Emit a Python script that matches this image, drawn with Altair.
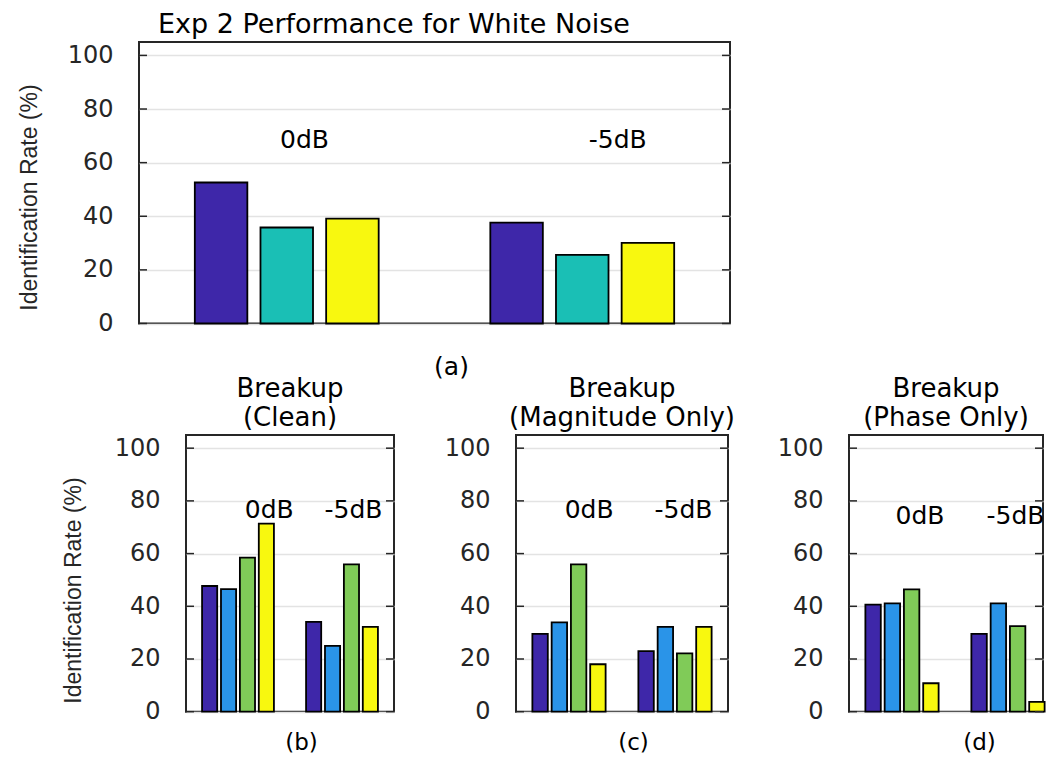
import altair as alt
import pandas as pd

# ---------------- data ----------------
groups = ["0dB", "-5dB"]
group_pos = [1, 2]

top_keys = ["a1", "a2", "a3"]
top_values = [[52.6, 35.8, 39.1], [37.6, 25.6, 30.1]]

bottom_keys = ["b1", "b2", "b3", "b4"]
clean_values = [[47.7, 46.5, 58.5, 71.4], [34.1, 25.0, 55.9, 32.2]]
magnitude_values = [[29.5, 33.9, 55.9, 18.0], [23.0, 32.2, 22.1, 32.2]]
phase_values = [[40.6, 41.1, 46.4, 10.8], [29.5, 41.1, 32.5, 3.7]]

y_ticks = [0, 20, 40, 60, 80, 100]

# annotation anchor points (data coords)
top_ann_x = [1.06, 2.12]
top_ann_y = [68.6, 68.6]
clean_ann_x = [1.30, 2.11]
clean_ann_y = [76.7, 76.7]
mag_ann_x = [1.19, 2.08]
mag_ann_y = [76.7, 76.7]
phase_ann_x = [1.17, 2.07]
phase_ann_y = [74.2, 74.2]

color_domain = ["a1", "a2", "a3", "b1", "b2", "b3", "b4"]
color_range = ["#3E27A9", "#1ABFB5", "#F8F80F", "#3E27A9", "#2A94E8", "#80CB58", "#F8F80F"]

TXT = "DejaVu Sans"
YLAB = "Liberation Sans"
INK = "#262626"


def make_df(values, keys):
    rows = []
    n = len(keys)
    for gi, g in enumerate(group_pos):
        for si, k in enumerate(keys):
            rows.append({"g": g, "i": si + 1, "n": n, "key": k, "value": values[gi][si]})
    return pd.DataFrame(rows)


def panel(values, keys, width, height, xmax, xtitle, xtitle_x, xtitle_y, xtitle_size,
          ann_x, ann_y, title, ylabel=None, ylab_x=0, ylab_y=0):
    df = make_df(values, keys)
    xscale = alt.Scale(domain=[0.5, xmax], nice=False, zero=False)
    yscale = alt.Scale(domain=[0, 105], nice=False)
    xaxis = alt.Axis(labels=False, ticks=False, domain=False, grid=False,
                     title=xtitle, titleFont=TXT, titleFontSize=xtitle_size,
                     titleFontWeight="normal", titleColor="black",
                     titleX=xtitle_x, titleY=xtitle_y, titleBaseline="middle",
                     titleAlign="center")
    yargs = dict(values=y_ticks, grid=True, gridColor="#E3E3E3", gridWidth=1.6,
                 ticks=False, tickSize=0, domain=False, labelFont=TXT,
                 labelFontSize=24, labelColor=INK, labelPadding=26)
    if ylabel:
        yargs.update(title=ylabel, titleFont=YLAB, titleFontSize=23,
                     titleFontWeight="normal", titleColor=INK,
                     titleX=ylab_x, titleY=ylab_y, titleBaseline="middle",
                     titleAngle=270, titleAlign="center")
    else:
        yargs.update(title=None)
    yaxis = alt.Axis(**yargs)

    bars = alt.Chart(df).mark_bar(stroke="black", strokeWidth=1.8).transform_calculate(
        gw="min(0.8, datum.n / (datum.n + 1.5))"
    ).transform_calculate(
        xc="datum.g - datum.gw / 2 + (datum.i - 0.5) * datum.gw / datum.n",
        bw="0.8 * datum.gw / datum.n",
    ).transform_calculate(
        x0="datum.xc - datum.bw / 2",
        x1="datum.xc + datum.bw / 2",
    ).encode(
        x=alt.X("x0:Q", scale=xscale, axis=xaxis),
        x2="x1:Q",
        y=alt.Y("value:Q", scale=yscale, axis=yaxis),
        y2=alt.datum(0),
        color=alt.Color("key:N", scale=alt.Scale(domain=color_domain, range=color_range), legend=None),
    )

    tdf = pd.DataFrame({"v": y_ticks})
    ticks_l = alt.Chart(tdf).mark_rule(color=INK, strokeWidth=1.5).encode(
        y=alt.Y("v:Q", scale=yscale, axis=yaxis), x=alt.value(0), x2=alt.value(8))
    ticks_r = alt.Chart(tdf).mark_rule(color=INK, strokeWidth=1.5).encode(
        y=alt.Y("v:Q", scale=yscale, axis=yaxis), x=alt.value(width - 8), x2=alt.value(width))

    adf = pd.DataFrame({"ax": ann_x, "ay": ann_y, "label": groups})
    ann = alt.Chart(adf).mark_text(font=TXT, fontSize=25, color="black").encode(
        x=alt.X("ax:Q", scale=xscale, axis=xaxis),
        y=alt.Y("ay:Q", scale=yscale, axis=yaxis),
        text="label:N",
    )

    return alt.layer(bars, ticks_l, ticks_r, ann).properties(
        width=width, height=height, title=title)


TOP_H = 281.5
BOT_H = 276.7

top = panel(top_values, top_keys, 591, TOP_H, 2.5, "(a)", 312, 43, 25,
            top_ann_x, top_ann_y,
            alt.TitleParams("Exp 2 Performance for White Noise", anchor="start",
                            frame="group", dx=19, offset=3, font=TXT, fontSize=27,
                            fontWeight="normal", color="black"),
            ylabel="Identification Rate (%)", ylab_x=-110, ylab_y=155)


def btitle(lines):
    return alt.TitleParams(lines, anchor="middle", offset=4, font=TXT, fontSize=26,
                           lineHeight=29, fontWeight="normal", color="black")


BX_Y = 31
BX_S = 23
pb = panel(clean_values, bottom_keys, 208, BOT_H, 2.5, "(b)", 115, BX_Y, BX_S,
           clean_ann_x, clean_ann_y, btitle(["Breakup", "(Clean)"]),
           ylabel="Identification Rate (%)", ylab_x=-113, ylab_y=155)
pc = panel(magnitude_values, bottom_keys, 212, BOT_H, 2.5, "(c)", 117, BX_Y, BX_S,
           mag_ann_x, mag_ann_y, btitle(["Breakup", "(Magnitude Only)"]))
pd_ = panel(phase_values, bottom_keys, 194, BOT_H, 0.5 + 194 / 106, "(d)", 130, BX_Y, BX_S,
            phase_ann_x, phase_ann_y, btitle(["Breakup", "(Phase Only)"]))


def spacer(h):
    return alt.Chart(pd.DataFrame({"v": [0]})).mark_point(opacity=0).encode(
        x=alt.value(0), y=alt.value(0)).properties(
        width=1, height=h, view=alt.ViewBackground(stroke="transparent"))


top_row = alt.concat(spacer(TOP_H), top, columns=2, spacing=0)
inner = alt.concat(spacer(BOT_H), pb, columns=2, spacing=44)
right_pair = alt.concat(pc, pd_, columns=2, spacing=40)
bottom_row = alt.concat(inner, right_pair, columns=2, spacing=47)

chart = alt.concat(top_row, bottom_row, columns=1, spacing=-6).properties(
    padding={"left": 1, "top": 2, "right": 0, "bottom": 0}
).configure(background="white").configure_view(stroke=INK, strokeWidth=2)

chart.save("out.html", embed_options={"renderer": "svg", "actions": False})
